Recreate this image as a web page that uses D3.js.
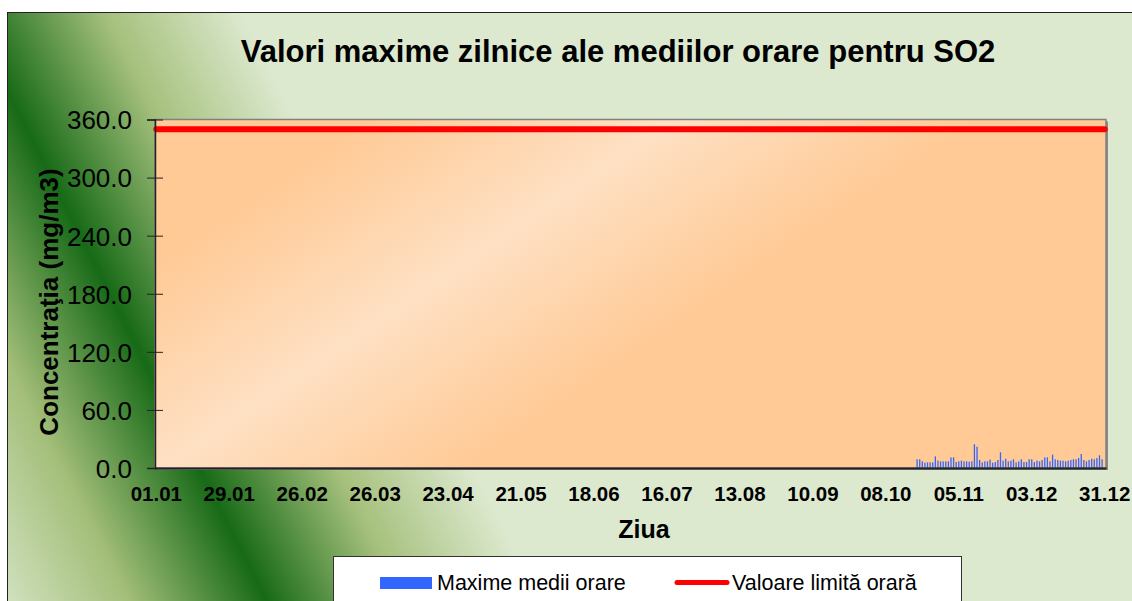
<!DOCTYPE html>
<html>
<head>
<meta charset="utf-8">
<script src="https://cdn.jsdelivr.net/npm/d3@7"></script>
<style>
  body { margin: 0; background: #ffffff; }
  svg { display: block; }
</style>
</head>
<body>
<svg id="chart"></svg>
<script>
// categories: every day of the year, labelled dd.mm
var dates = d3.timeDay.range(new Date(2009, 0, 1), new Date(2010, 0, 1)).map(d3.timeFormat("%d.%m"));
var xTickLabels = ["01.01", "29.01", "26.02", "26.03", "23.04", "21.05", "18.06",
                   "16.07", "13.08", "10.09", "08.10", "05.11", "03.12", "31.12"];
var yTickValues = [0, 60, 120, 180, 240, 300, 360];

// daily maxima of hourly means, measured from 20.10 onwards
var firstBarDate = "20.10";
var maxHourly = [9.0, 9.0, 6.9, 5.5, 5.8, 5.8, 5.8, 12.0, 7.6, 6.9, 6.9, 6.9, 6.9, 11.0, 11.0, 6.2,
                 6.9, 7.6, 6.9, 6.9, 6.5, 6.9, 24.5, 22.0, 8.3, 5.8, 6.9, 6.9, 8.6, 5.5, 6.2, 8.3,
                 16.2, 7.6, 9.6, 6.9, 7.6, 9.0, 5.8, 6.9, 9.0, 6.2, 6.2, 9.0, 9.0, 6.2, 7.6, 6.9,
                 8.3, 11.0, 11.0, 6.9, 13.8, 9.0, 8.3, 7.6, 7.6, 6.9, 7.6, 8.3, 9.0, 9.0, 10.3, 14.5,
                 8.3, 6.9, 8.3, 9.6, 9.0, 10.3, 13.1, 9.0];
var hourlyLimit = 350;

var W = 1132, H = 601;
var plot = {left: 155, top: 119.5, right: 1106, bottom: 468};

var svg = d3.select("#chart").attr("width", W).attr("height", H);
var defs = svg.append("defs");

var bg = defs.append("linearGradient").attr("id", "bgGrad")
    .attr("gradientUnits", "userSpaceOnUse")
    .attr("x1", -204).attr("y1", 216).attr("x2", 232).attr("y2", -6);
bg.append("stop").attr("offset", 0).attr("stop-color", "#d6e5c6");
bg.append("stop").attr("offset", 0.25).attr("stop-color", "#a3be79");
bg.append("stop").attr("offset", 0.5).attr("stop-color", "#176a17");
bg.append("stop").attr("offset", 0.75).attr("stop-color", "#a5c07c");
bg.append("stop").attr("offset", 1).attr("stop-color", "#dde9cf");

var pg = defs.append("linearGradient").attr("id", "plotGrad")
    .attr("gradientUnits", "userSpaceOnUse")
    .attr("x1", 254).attr("y1", 199).attr("x2", 446).attr("y2", 481);
pg.append("stop").attr("offset", 0).attr("stop-color", "#ffca96");
pg.append("stop").attr("offset", 0.5).attr("stop-color", "#fee0c3");
pg.append("stop").attr("offset", 1).attr("stop-color", "#ffca96");

// chart area
svg.append("rect")
    .attr("x", 7.5).attr("y", 12.5).attr("width", W + 20).attr("height", H + 20)
    .attr("fill", "url(#bgGrad)").attr("stroke", "#222").attr("stroke-width", 1);

var font = "Arial, 'Liberation Sans', sans-serif";

svg.append("text")
    .attr("x", 618).attr("y", 62)
    .attr("text-anchor", "middle")
    .style("font-family", font).style("font-size", "31px").style("font-weight", "bold")
    .text("Valori maxime zilnice ale mediilor orare pentru SO2");

// plot area
svg.append("rect")
    .attr("x", plot.left + 2).attr("y", plot.top + 2)
    .attr("width", plot.right - plot.left).attr("height", plot.bottom - plot.top)
    .attr("fill", "#8a8a8a");
svg.append("rect")
    .attr("x", plot.left).attr("y", plot.top)
    .attr("width", plot.right - plot.left).attr("height", plot.bottom - plot.top)
    .attr("fill", "url(#plotGrad)").attr("stroke", "#808080").attr("stroke-width", 1.5);

var xScale = d3.scaleBand()
    .domain(dates)
    .range([plot.left, plot.right])
    .paddingInner(0.5).paddingOuter(0.25);

var yScale = d3.scaleLinear()
    .domain([0, 360])
    .range([plot.bottom, plot.top]);

var startIdx = dates.indexOf(firstBarDate);
var barData = maxHourly.map(function (v, i) {
    return {date: dates[startIdx + i], value: v};
});

svg.selectAll(".bar")
    .data(barData)
    .enter().append("rect")
    .attr("class", "bar")
    .attr("x", function (d) { return xScale(d.date); })
    .attr("y", function (d) { return yScale(d.value); })
    .attr("width", xScale.bandwidth())
    .attr("height", function (d) { return yScale(0) - yScale(d.value); })
    .attr("fill", "#3366ff");

var limitLine = d3.line()
    .x(function (d) { return xScale(d) + xScale.bandwidth() / 2; })
    .y(function () { return yScale(hourlyLimit); });

svg.append("path")
    .datum(dates)
    .attr("d", limitLine)
    .attr("fill", "none")
    .attr("stroke", "#ff0000")
    .attr("stroke-width", 6)
    .attr("stroke-linecap", "round");

// y axis
var yAxis = svg.append("g")
    .attr("transform", "translate(" + plot.left + ",0)")
    .call(d3.axisLeft(yScale).tickValues(yTickValues).tickSize(8).tickFormat(d3.format(".1f")));
yAxis.select(".domain").attr("stroke", "#222").attr("stroke-width", 1.5);
yAxis.selectAll(".tick line").attr("x1", 8).attr("x2", -8).attr("stroke", "#222");
yAxis.selectAll(".tick text")
    .attr("x", -23).attr("dy", "0.36em")
    .style("font-family", font).style("font-size", "26px").attr("fill", "#000");

// x axis
var xAxis = svg.append("g")
    .attr("transform", "translate(0," + plot.bottom + ")")
    .call(d3.axisBottom(xScale).tickValues(xTickLabels).tickSize(0));
xAxis.select(".domain").attr("stroke", "#222").attr("stroke-width", 2);
xAxis.selectAll(".tick text")
    .attr("y", 33).attr("dy", 0)
    .style("font-family", font).style("font-size", "20.5px").style("font-weight", "bold")
    .attr("fill", "#000");

svg.append("text")
    .attr("x", 644).attr("y", 538)
    .attr("text-anchor", "middle")
    .style("font-family", font).style("font-size", "25px").style("font-weight", "bold")
    .text("Ziua");

svg.append("text")
    .attr("transform", "translate(58,302) rotate(-90)")
    .attr("text-anchor", "middle")
    .style("font-family", font).style("font-size", "26px").style("font-weight", "bold")
    .text("Concentraţia (mg/m3)");

// legend
var legend = svg.append("g");
legend.append("rect")
    .attr("x", 333.5).attr("y", 556.5).attr("width", 628).attr("height", 60)
    .attr("fill", "#ffffff").attr("stroke", "#333").attr("stroke-width", 1);
legend.append("rect")
    .attr("x", 380).attr("y", 577).attr("width", 52).attr("height", 12)
    .attr("fill", "#3366ff");
legend.append("text")
    .attr("x", 437).attr("y", 590)
    .style("font-family", font).style("font-size", "21.5px")
    .text("Maxime medii orare");
legend.append("line")
    .attr("x1", 677).attr("x2", 727).attr("y1", 582.5).attr("y2", 582.5)
    .attr("stroke", "#ff0000").attr("stroke-width", 5).attr("stroke-linecap", "round");
legend.append("text")
    .attr("x", 732).attr("y", 590)
    .style("font-family", font).style("font-size", "21.5px")
    .text("Valoare limită orară");
</script>
</body>
</html>
